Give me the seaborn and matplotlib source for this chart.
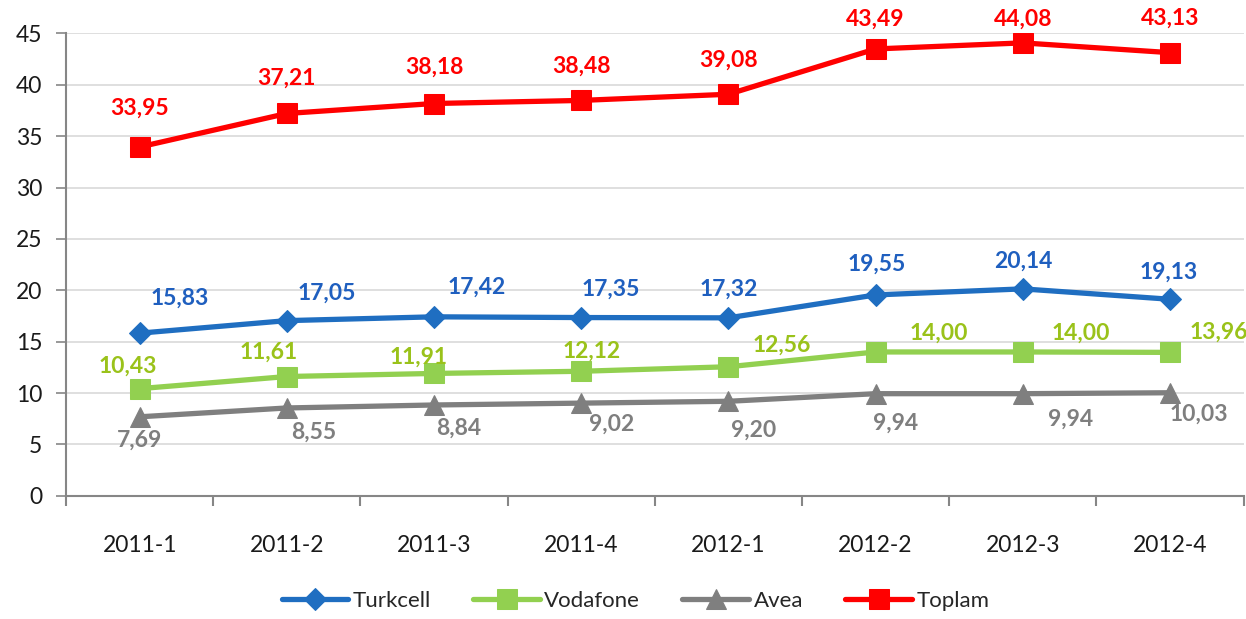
import pandas as pd
import seaborn as sns
from matplotlib import pyplot as plt
from matplotlib.ticker import FixedLocator

quarters = ['2011-1', '2011-2', '2011-3', '2011-4', '2012-1', '2012-2', '2012-3', '2012-4']
turkcell = [15.83, 17.05, 17.42, 17.35, 17.32, 19.55, 20.14, 19.13]
vodafone = [10.43, 11.61, 11.91, 12.12, 12.56, 14.00, 14.00, 13.96]
avea = [7.69, 8.55, 8.84, 9.02, 9.20, 9.94, 9.94, 10.03]
toplam = [33.95, 37.21, 38.18, 38.48, 39.08, 43.49, 44.08, 43.13]

# label placement (pixel offsets from the point), like Excel put them
turkcell_off = [(40, 35), (40, 27), (43, 30), (30, 28), (0, 29), (1, 31), (1, 28), (-1, 27)]
vodafone_off = [(-12, 22), (-18, 24), (-15, 16), (10, 20), (53, 22), (63, 19), (58, 19), (49, 20)]
avea_off = [(0, -23), (27, -24), (25, -23), (30, -21), (25, -29), (20, -30), (48, -26), (29, -21)]
toplam_off = [(0, 39), (0, 35), (0, 36), (0, 34), (0, 34), (0, 30), (0, 24), (0, 34)]

series = [
    ('Turkcell', turkcell, '#1F6EC1', '#1F5FBF', 'D', 11, turkcell_off),
    ('Vodafone', vodafone, '#92D050', '#9AC21A', 's', 14, vodafone_off),
    ('Avea', avea, '#7F7F7F', '#7F7F7F', '^', 14, avea_off),
    ('Toplam', toplam, '#FF0000', '#FF0000', 's', 14, toplam_off),
]


def main():
    sns.set_theme(style='white')
    plt.rcParams['font.family'] = ['Lato', 'DejaVu Sans']

    fig, ax = plt.subplots(figsize=(12.46, 6.19), dpi=100)
    fig.subplots_adjust(left=0.053, right=0.998, top=0.946, bottom=0.199)

    for name, vals, color, lcolor, marker, ms, offs in series:
        df = pd.DataFrame({'quarter': quarters, 'value': vals})
        sns.lineplot(data=df, x='quarter', y='value', ax=ax, color=color, sort=False,
                     marker=marker, markersize=ms, markeredgecolor=color,
                     linewidth=3.8, label=name, zorder=3)
        for i, v in enumerate(vals):
            ax.annotate(f'{v:.2f}'.replace('.', ','), (i, v), xytext=offs[i],
                        textcoords='offset pixels', ha='center', va='center',
                        color=lcolor, fontsize=16.5, fontweight='bold', zorder=4)

    ax.set_xlim(-0.5, 7.5)
    ax.set_ylim(0, 45)
    ax.set_yticks(range(0, 46, 5))
    ax.yaxis.grid(True, color='#D9D9D9', linewidth=1.2)
    ax.set_axisbelow(True)
    ax.set_xlabel('')
    ax.set_ylabel('')

    for side in ['top', 'right']:
        ax.spines[side].set_visible(False)
    for side in ['left', 'bottom']:
        ax.spines[side].set_color('#868686')
        ax.spines[side].set_linewidth(1.5)

    ax.xaxis.set_minor_locator(FixedLocator([i - 0.5 for i in range(9)]))
    ax.tick_params(axis='x', which='major', length=0, pad=28, labelsize=16.5, colors='#1a1a1a')
    ax.tick_params(axis='x', which='minor', length=7, width=1.5, color='#868686', direction='out', bottom=True)
    ax.tick_params(axis='y', length=7, width=1.2, color='#868686', direction='out', left=True,
                   labelsize=16.5, labelcolor='#1a1a1a', pad=10)

    ax.get_legend().remove()
    handles, labels = ax.get_legend_handles_labels()
    fig.legend(handles, labels, loc='center', bbox_to_anchor=(0.51, 0.029), ncol=4,
               frameon=False, fontsize=16, handlelength=3.0, handletextpad=0.2,
               columnspacing=1.9)

    fig.savefig('out.png', dpi=100)


if __name__ == "__main__":
    main()
